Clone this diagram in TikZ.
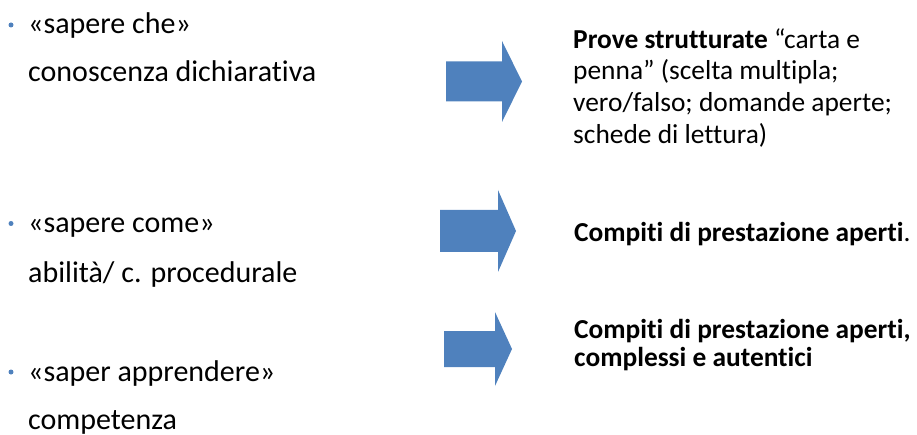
\documentclass[tikz,border=0pt]{standalone}
\usepackage{fontspec}
\setmainfont{Carlito}[Ligatures=NoCommon]
\definecolor{arrowblue}{HTML}{4F81BD}
\tikzset{
  item/.style={anchor=base west, inner sep=0pt, font=\fontsize{30}{36}\selectfont},
  result/.style={anchor=base west, inner sep=0pt, align=left, font=\fontsize{27.4}{31.7}\selectfont},
  dot/.style={circle, fill=arrowblue, inner sep=0pt, minimum size=5pt},
}
% left x, mid y, shaft half, head base x, tip x, head half
\newcommand\blockarrow[6]{%
  \fill[arrowblue] (#1,#2-#3) -- (#4,#2-#3) -- (#4,#2-#6) -- (#5,#2)
    -- (#4,#2+#6) -- (#4,#2+#3) -- (#1,#2+#3) -- cycle;}
\begin{document}
\begin{tikzpicture}[x=1pt,y=-1pt]
  \useasboundingbox (0,0) rectangle (917,435);
  % left column
  \node[dot] (d1) at (11,25) {};
  \node[item] (k1) at (28,34) {«sapere che»};
  \node[item] (k1b) at (28,82) {conoscenza dichiarativa};
  \node[dot] (d2) at (11,223.5) {};
  \node[item] (k2) at (28,232.7) {«sapere come»};
  \node[item] (k2b) at (28,282.7) {abilità/ c. procedurale};
  \node[dot] (d3) at (11,372) {};
  \node[item] (k3) at (28,381.7) {«saper apprendere»};
  \node[item] (k3b) at (28,429) {competenza};
  % arrows
  \blockarrow{446}{81.5}{20}{502}{522}{40.5}
  \blockarrow{440}{231}{21}{498}{516}{41}
  \blockarrow{444}{349}{18}{495}{512}{37}
  % right column (base = last line)
  \node[result] (r1) at (573,143.3) {\textbf{Prove strutturate} “carta e\\
    penna” (scelta multipla;\\ vero/falso; domande aperte;\\ schede di lettura)};
  \node[result] (r2) at (574,241.7) {\textbf{Compiti di prestazione aperti}.};
  \node[result, font=\fontsize{27.4}{28.4}\selectfont] (r3) at (574,366.7)
    {\textbf{Compiti di prestazione aperti,}\\ \textbf{complessi e autentici}};
\end{tikzpicture}
\end{document}
